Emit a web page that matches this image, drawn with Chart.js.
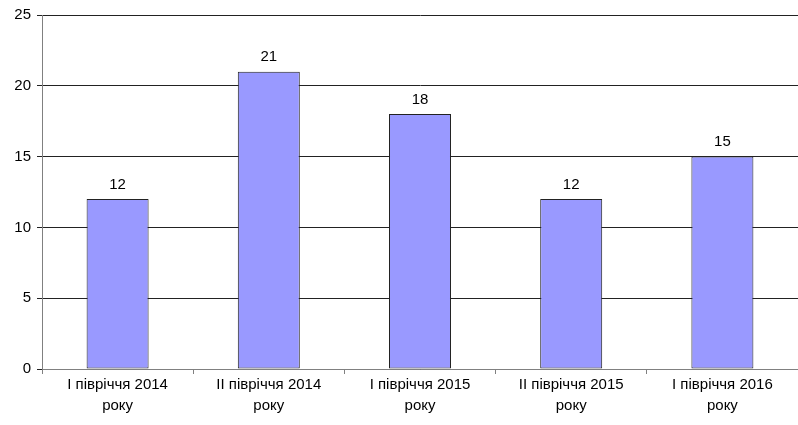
<!DOCTYPE html>
<html><head><meta charset="utf-8">
<script src="https://cdn.jsdelivr.net/npm/chart.js@4/dist/chart.umd.min.js"></script>
<style>html,body{margin:0;padding:0;background:#fff}#w{width:798px;height:425px}</style>
</head><body><div id="w"><canvas id="c" width="798" height="425"></canvas></div>
<script>
const categories = [["І півріччя 2014","року"],["ІІ півріччя 2014","року"],["І півріччя 2015","року"],["ІІ півріччя 2015","року"],["І півріччя 2016","року"]];
const values = [12, 21, 18, 12, 15];
const yTicks = [0, 5, 10, 15, 20, 25];
const FONT = '"Liberation Sans", Arial, sans-serif';

const labelPlugin = {
  id: 'vals',
  afterDatasetsDraw(chart) {
    const ctx = chart.ctx;
    const meta = chart.getDatasetMeta(0);
    ctx.save();
    ctx.font = '15px ' + FONT;
    ctx.fillStyle = '#000';
    ctx.textAlign = 'center';
    ctx.textBaseline = 'bottom';
    meta.data.forEach((bar, i) => {
      ctx.fillText(String(values[i]), bar.x, bar.y - 7);
    });
    ctx.restore();
  }
};

new Chart(document.getElementById('c'), {
  type: 'bar',
  data: {
    labels: categories,
    datasets: [{
      data: values,
      backgroundColor: '#9999FF',
      borderColor: '#222222',
      borderWidth: 1,
      borderSkipped: false,
      categoryPercentage: 1,
      barPercentage: 0.41
    }]
  },
  options: {
    responsive: false,
    animation: false,
    devicePixelRatio: 1,
    layout: { padding: { top: 15, right: 0, left: 0, bottom: 0 } },
    plugins: { legend: { display: false }, tooltip: { enabled: false } },
    scales: {
      y: {
        min: 0, max: 25,
        afterBuildTicks(axis) { axis.ticks = yTicks.map(v => ({ value: v })); },
        afterFit(axis) { axis.width = 42; },
        grid: { color: '#222', lineWidth: 1, tickLength: 5, drawTicks: true },
        border: { color: '#808080' },
        ticks: { color: '#000', font: { family: FONT, size: 15 }, padding: 6 }
      },
      x: {
        afterFit(axis) { axis.height = 56; },
        grid: { offset: true, drawOnChartArea: false, tickLength: 5, color: '#808080' },
        border: { color: '#808080' },
        ticks: { color: '#000', font: { family: FONT, size: 15, lineHeight: 1.4 }, padding: 0, maxRotation: 0, autoSkip: false }
      }
    }
  },
  plugins: [labelPlugin]
});
</script></body></html>
